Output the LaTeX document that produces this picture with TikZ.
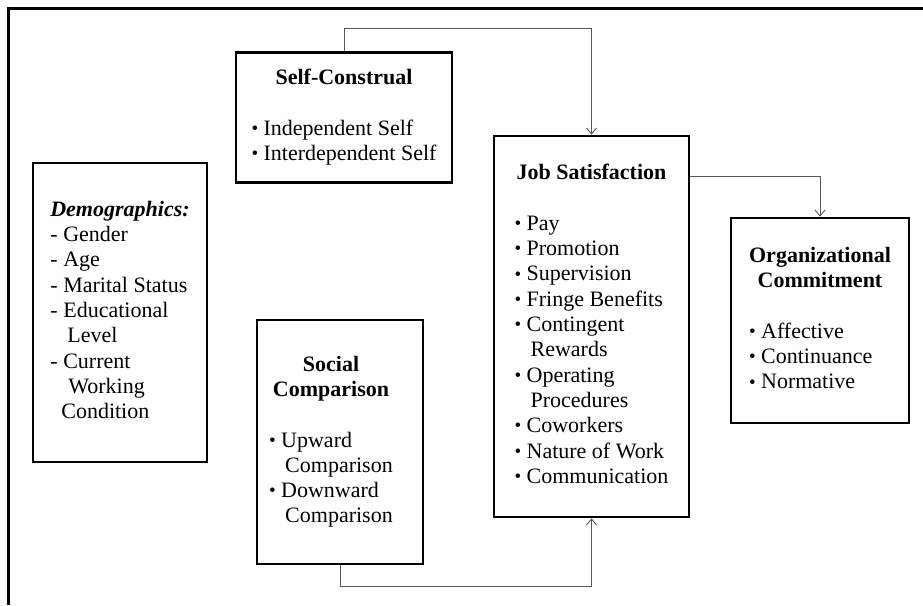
\documentclass[tikz,border=0pt]{standalone}
\usepackage{fontspec}
\setmainfont{Liberation Serif}
\usetikzlibrary{arrows.meta}

\newcommand{\bul}{\makebox[12pt][l]{\raisebox{0.8pt}{\fontsize{19}{19}\selectfont\textbullet}}}
\newcommand{\dsh}{\makebox[13pt][l]{-}}
\newcommand{\cont}{\hspace*{16pt}}

\begin{document}
\begin{tikzpicture}[x=1pt,y=1pt,
  modelbox/.style={draw=black,line width=2.6pt,inner sep=0pt,font=\fontsize{22}{25.3}\selectfont},
  link/.style={draw=linkColor,line width=0.9pt,-{Straight Barb[length=6pt,width=10pt]}}]
\definecolor{linkColor}{RGB}{89,89,89}
\path[use as bounding box] (0,0) rectangle (923,605);

\draw[line width=3pt] (8,0) -- (8,596) -- (923,596);

\node[modelbox,minimum width=216pt,minimum height=130pt] (selfcon) at (344,487.5) {\begin{tabular}{@{}l@{}}
\multicolumn{1}{@{}c@{}}{\bfseries Self-Construal}\\[25.3pt]
\bul Independent Self\\
\bul Interdependent Self
\end{tabular}};

\node[modelbox,minimum width=174pt,minimum height=299pt] (demo) at (120,292.5) {\begin{tabular}{@{}l@{}}
\textbf{\textit{Demographics:}}\\
\dsh Gender\\
\dsh Age\\
\dsh Marital Status\\
\dsh Educational\\
\hspace*{17pt}Level\\
\dsh Current\\
\hspace*{18pt}Working\\
\hspace*{11pt}Condition
\end{tabular}};

\node[modelbox,minimum width=166pt,minimum height=244pt] (social) at (340,163) {\begin{tabular}{@{}l@{\hspace{18pt}}}
\multicolumn{1}{@{}c@{\hspace{18pt}}}{\bfseries Social}\\
\multicolumn{1}{@{}c@{\hspace{18pt}}}{\bfseries Comparison}\\[25.3pt]
\bul Upward\\
\cont Comparison\\
\bul Downward\\
\cont Comparison
\end{tabular}};

\node[modelbox,minimum width=195pt,minimum height=381pt] (jobsat) at (591.5,278.5) {\begin{tabular}{@{}l@{}}
\multicolumn{1}{@{}c@{}}{\bfseries Job Satisfaction}\\[25.3pt]
\bul Pay\\
\bul Promotion\\
\bul Supervision\\
\bul Fringe Benefits\\
\bul Contingent\\
\cont Rewards\\
\bul Operating\\
\cont Procedures\\
\bul Coworkers\\
\bul Nature of Work\\
\bul Communication
\end{tabular}};

\node[modelbox,minimum width=178pt,minimum height=205pt] (orgcom) at (820,284.5) {\begin{tabular}{@{}l@{}}
\multicolumn{1}{@{}c@{}}{\bfseries Organizational}\\
\multicolumn{1}{@{}c@{}}{\bfseries Commitment}\\[25.3pt]
\bul Affective\\
\bul Continuance\\
\bul Normative
\end{tabular}};

\draw[link] (selfcon.north) -- ++(0,23) -| (jobsat.north);
\draw[link] ([yshift=-42pt]jobsat.north east) -| (orgcom.north);
\draw[link] (social.south) -- ++(0,-21) -| (jobsat.south);
\end{tikzpicture}
\end{document}
